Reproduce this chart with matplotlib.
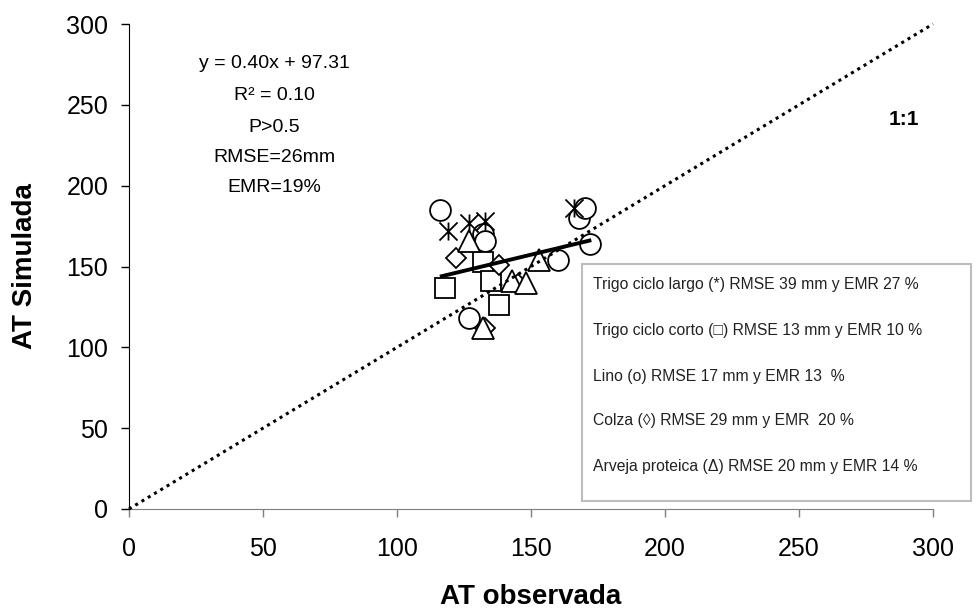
import matplotlib
matplotlib.use("Agg")
import matplotlib.pyplot as plt
from matplotlib.patches import Rectangle
from matplotlib.path import Path
from matplotlib import font_manager
import numpy as np

# Data
trigo_largo_obs = [119, 127, 133, 166]
trigo_largo_sim = [172, 177, 178, 186]

trigo_corto_obs = [118, 132, 135, 138]
trigo_corto_sim = [137, 153, 141, 126]

lino_obs = [116, 132, 133, 127, 160, 168, 170, 172]
lino_sim = [185, 170, 166, 118, 154, 180, 186, 164]

colza_obs = [122, 138, 145, 133]
colza_sim = [155, 151, 139, 112]

arveja_obs = [127, 143, 148, 153, 132]
arveja_sim = [166, 141, 140, 154, 112]

slope, intercept = 0.40, 97.31
fit_range = [116, 172.5]

legend_lines = [
    "Trigo ciclo largo (*) RMSE 39 mm y EMR 27 %",
    "Trigo ciclo corto (□) RMSE 13 mm y EMR 10 %",
    "Lino (ο) RMSE 17 mm y EMR 13  %",
    "Colza (◊) RMSE 29 mm y EMR  20 %",
    "Arveja proteica (Δ) RMSE 20 mm y EMR 14 %",
]
stats_lines = ["y = 0.40x + 97.31", "R² = 0.10", "P>0.5", "RMSE=26mm", "EMR=19%"]

ticks = [0, 50, 100, 150, 200, 250, 300]

plt.rcParams['font.family'] = ['Liberation Sans', 'DejaVu Sans']

names = {f.name for f in font_manager.fontManager.ttflist}
if 'Liberation Sans Narrow' in names:
    leg_family = ['Liberation Sans Narrow', 'DejaVu Sans']
    leg_size = 12
else:
    leg_family = ['Liberation Sans', 'DejaVu Sans']
    leg_size = 11.3

W, H = 976, 614
fig = plt.figure(figsize=(W / 100, H / 100), dpi=100)
ax = fig.add_axes([129 / W, 1 - 509 / H, (933 - 129) / W, (509 - 24) / H])
ax.set_xlim(0, 300)
ax.set_ylim(0, 300)
ax.set_xticks(ticks)
ax.set_yticks(ticks)
ax.tick_params(direction='out', length=6, width=1, labelsize=18)
ax.tick_params(axis='x', pad=14, color='#7f7f7f')
ax.tick_params(axis='y', pad=9)
for s in ['top', 'right']:
    ax.spines[s].set_visible(False)
ax.spines['left'].set_color('black')
ax.spines['bottom'].set_color('#7f7f7f')
ax.spines['left'].set_zorder(8)

star = Path([(-1, -1), (1, 1), (-1, 1), (1, -1), (0, -1), (0, 1)],
            [Path.MOVETO, Path.LINETO, Path.MOVETO, Path.LINETO, Path.MOVETO, Path.LINETO])

mk = dict(markerfacecolor='white', markeredgecolor='black', markeredgewidth=1.3,
          linestyle='none', zorder=3)
ax.plot(lino_obs, lino_sim, marker='o', markersize=15, **mk)
ax.plot(trigo_corto_obs, trigo_corto_sim, marker='s', markersize=14.5, **mk)
ax.plot(colza_obs, colza_sim, marker='D', markersize=10.5, **mk)
ax.plot(arveja_obs, arveja_sim, marker='^', markersize=16, **mk)
ax.plot(trigo_largo_obs, trigo_largo_sim, marker=star, markersize=13,
        linestyle='none', color='black', markeredgewidth=1.3, zorder=3)

# 1:1 line
ax.plot([0, 300], [0, 300], linestyle=(0, (1, 1.4)), color='black', linewidth=2.2,
        zorder=4, clip_on=False)
# regression line
fx = np.array(fit_range)
ax.plot(fx, slope * fx + intercept, color='black', linewidth=2.8, zorder=5,
        solid_capstyle='butt')

ax.text(289, 241, "1:1", fontsize=15, fontweight='bold', ha='center', va='center')

ys = [64, 96, 127, 157, 188]
for t, yy in zip(stats_lines, ys):
    fig.text(274 / W, 1 - yy / H, t, fontsize=14, ha='center', va='center')

ax.set_xlabel("AT observada", fontsize=20, fontweight='bold', labelpad=17)
ax.set_ylabel("AT Simulada", fontsize=20, fontweight='bold', labelpad=20)

# legend box
box = Rectangle((582 / W, 1 - 501 / H), (971 - 582) / W, (501 - 264) / H,
                transform=fig.transFigure, facecolor='white', edgecolor='#bdbdbd',
                linewidth=1.5, zorder=6)
fig.add_artist(box)
ly = [284, 330, 376, 421, 466]
for t, yy in zip(legend_lines, ly):
    fig.text(593 / W, 1 - yy / H, t, fontsize=leg_size, ha='left', va='center',
             color='#222222', family=leg_family, zorder=7)

fig.savefig("out.png", dpi=100)
